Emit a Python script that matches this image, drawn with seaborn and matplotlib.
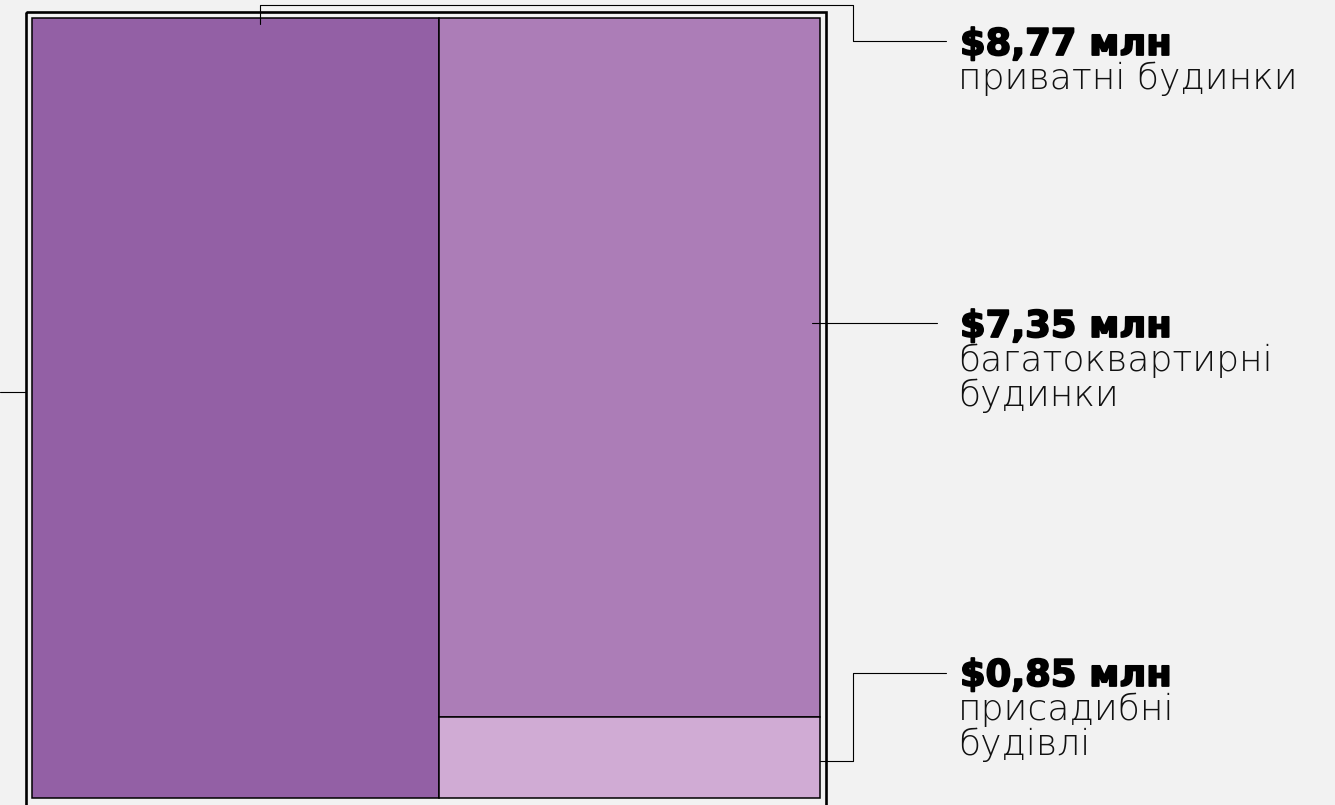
import matplotlib
matplotlib.use("Agg")
import matplotlib.pyplot as plt
import matplotlib.patheffects as pe
from matplotlib.patches import Rectangle
import seaborn as sns

# ------------------------------------------
# Data
# ------------------------------------------
amounts = [8.77, 7.35, 0.85]
amount_labels = ["$8,77 млн", "$7,35 млн", "$0,85 млн"]
category_labels = ["приватні будинки", "багатоквартирні\nбудинки", "присадибні\nбудівлі"]
colors = ["#9360A5", "#AC7DB7", "#D0ABD4"]

BG = "#F2F2F2"

sns.set_theme(style="white")
plt.rcParams["font.family"] = ["DejaVu Sans"]

fig = plt.figure(figsize=(13.35, 8.05), dpi=100, facecolor=BG)
ax = fig.add_axes([0, 0, 1, 1])
ax.set_facecolor(BG)
ax.set_xlim(0, 1335)
ax.set_ylim(805, 0)
ax.axis("off")

# treemap region (pixel space)
x0, y0, x1, y1 = 32, 18, 820, 798
total = sum(amounts)
split_x = x0 + (x1 - x0) * amounts[0] / total
right_total = amounts[1] + amounts[2]
split_y = y0 + (y1 - y0) * amounts[1] / right_total

rects = [
    (x0, y0, split_x - x0, y1 - y0),
    (split_x, y0, x1 - split_x, split_y - y0),
    (split_x, split_y, x1 - split_x, y1 - split_y),
]
for (rx, ry, rw, rh), c in zip(rects, colors):
    ax.add_patch(Rectangle((rx, ry), rw, rh, facecolor=c,
                           edgecolor="black", linewidth=1.1))

# outer frame
ax.add_patch(Rectangle((26, 12), 800, 800, facecolor="none",
                       edgecolor="black", linewidth=1.9))

# leader lines
lk = dict(color="black", linewidth=0.8)
top_x = x0 + (split_x - x0) * 0.56
ax.plot([top_x, top_x, 853, 853, 946], [y0 + 6, 5, 5, 41, 41], **lk)
ax.plot([812, 937], [323, 323], **lk)
ax.plot([x1, 853, 853, 946], [761, 761, 673, 673], **lk)
ax.plot([0, 26], [392, 392], **lk)

# labels
label_y = [55, 337, 686]
heavy = [pe.withStroke(linewidth=1.3, foreground="black")]
for amt, cat, yb in zip(amount_labels, category_labels, label_y):
    ax.text(960, yb, amt, fontsize=26.5, fontweight="bold", family="DejaVu Sans",
            va="baseline", ha="left", color="black", path_effects=heavy)
    for i, line in enumerate(cat.split("\n")):
        ax.text(958, yb + 34 + 35 * i, line, fontsize=26, fontweight=200,
                family="DejaVu Sans", va="baseline", ha="left", color="#111111")

fig.savefig("out.png", dpi=100, facecolor=BG)
